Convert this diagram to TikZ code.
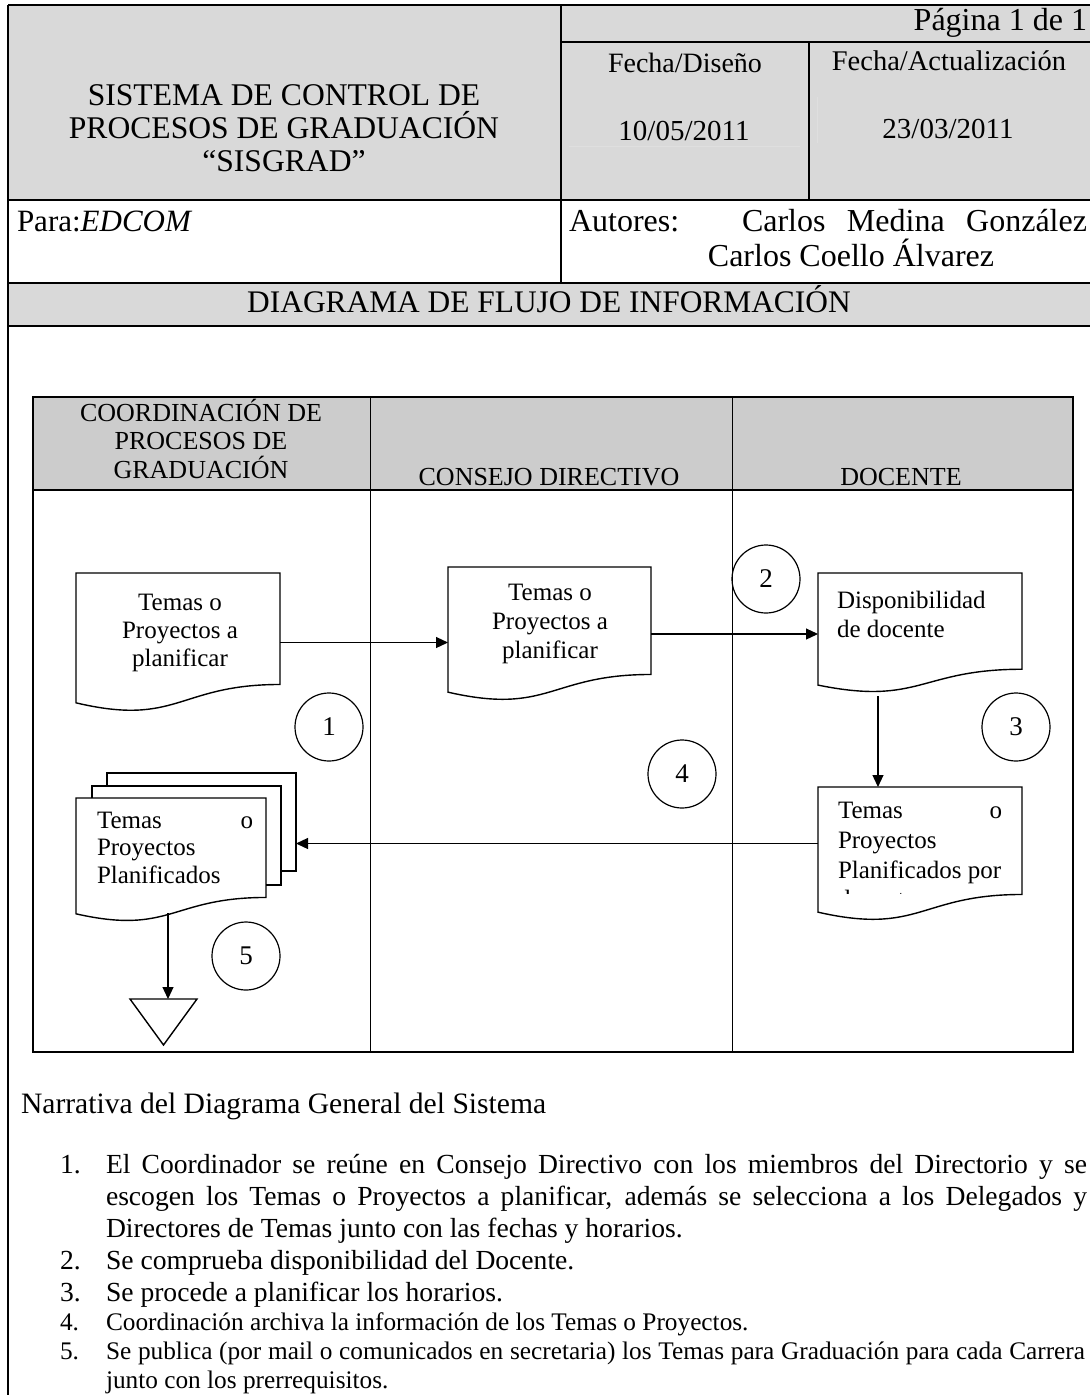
\documentclass[tikz,border=0pt]{standalone}
\usepackage{fontspec}
\setmainfont{Liberation Serif}
\usetikzlibrary{arrows.meta,calc}
\definecolor{hdrgray}{RGB}{217,217,217}
\definecolor{lanegray}{RGB}{204,204,204}
\newcommand\myfs[1]{\fontsize{#1}{#1}\selectfont}
\newcommand\docshape[1]{\draw[docline] (#1.north west) -- (#1.north east) -- ($(#1.north east)!0.802!(#1.south east)$) .. controls ($(#1.north)!0.802!(#1.south)$) and ($(#1.north)!1.1075!(#1.south)$) .. ($(#1.north west)!0.934!(#1.south west)$) -- cycle;}
\begin{document}
\begin{tikzpicture}[x=1pt,y=-1pt,
  txt/.style={inner sep=0pt, outer sep=0pt, anchor=base},
  box/.style={inner sep=0pt, outer sep=0pt, draw=none},
  arr/.style={-{Triangle[length=12pt,width=11pt]}, line width=1.2pt},
  docline/.style={line width=1.4pt},
  numc/.style={circle, draw, line width=1.2pt, minimum size=68pt, inner sep=0pt, font=\myfs{27}},
  thin/.style={line width=1.2pt},
  thick2/.style={line width=2.5pt}]
\useasboundingbox (0,0) rectangle (1090,1395);
\fill[white] (0,0) rectangle (1090,1395);
% ---------------- header table
\fill[hdrgray] (8,5) rectangle (1090,200);
\fill[hdrgray] (8,283) rectangle (1090,326);
\draw[thin] (8,5) -- (1090,5);
\draw[thin] (8,5) -- (8,1395);
\draw[line width=1.8pt] (561,42) -- (1090,42);
\draw[thin] (561,5) -- (561,283);
\draw[line width=1.8pt] (809,42) -- (809,200);
\draw[thick2] (8,200) -- (1090,200);
\draw[thick2] (8,283) -- (1090,283);
\draw[thin] (8,326) -- (1090,326);
\draw[gray!25, line width=0.8pt] (569,146) -- (800,146);
\draw[gray!25, line width=0.8pt] (817,97) -- (817,143);

\node[txt, font=\myfs{31.6}] (t1) at (284,105) {SISTEMA DE CONTROL DE};
\node[txt, font=\myfs{31.6}] (t2) at (284,138) {PROCESOS DE GRADUACIÓN};
\node[txt, font=\myfs{31.6}] (t3) at (284,171) {“SISGRAD”};
\node[txt, anchor=base east, font=\myfs{32}] (pag) at (1087,30) {Página 1 de 1};
\node[txt, font=\myfs{28}] (fd) at (685,72) {Fecha/Diseño};
\node[txt, font=\myfs{28.5}] (fa) at (949,70) {Fecha/Actualización};
\node[txt, font=\myfs{29}] (fdv) at (684,140) {10/05/2011};
\node[txt, font=\myfs{29}] (fav) at (948,138) {23/03/2011};
\node[txt, anchor=base west, font=\myfs{31}] (para) at (17,231) {Para:\textit{EDCOM}};
\node[txt, anchor=base west, font=\myfs{32}] (aut) at (569,231) {Autores:};
\node[txt, anchor=base east, font=\myfs{32}] (aut1) at (1087,231) {\makebox[345pt][s]{Carlos Medina González}};
\node[txt, font=\myfs{32}] (aut2) at (851,266) {Carlos Coello Álvarez};
\node[txt, font=\myfs{31.4}] (dfi) at (549,312) {DIAGRAMA DE FLUJO DE INFORMACIÓN};

% ---------------- swimlanes
\fill[lanegray] (33,397) rectangle (1073,490);
\draw[line width=1pt] (370,397) -- (370,1052);
\draw[line width=1pt] (732,397) -- (732,1052);
\draw[line width=2.8pt] (33,490) -- (1073,490);
\draw[line width=2.2pt] (33,397) rectangle (1073,1052);
\node[txt, font=\myfs{26}] (l1a) at (201,421) {COORDINACIÓN DE};
\node[txt, font=\myfs{26}] (l1b) at (201,449) {PROCESOS DE};
\node[txt, font=\myfs{26}] (l1c) at (201,478) {GRADUACIÓN};
\node[txt, font=\myfs{26}] (l2) at (549,485) {CONSEJO DIRECTIVO};
\node[txt, font=\myfs{26}] (l3) at (901,485) {DOCENTE};

% documents
\node[box, minimum width=204pt, minimum height=139pt] (docA) at (178,642.5) {};
\node[box, minimum width=203pt, minimum height=134pt] (docB) at (549.5,634) {};
\node[box, minimum width=204pt, minimum height=120pt] (docC) at (920,633) {};
\node[box, minimum width=204pt, minimum height=134pt] (docD) at (920,854) {};
\node[box, minimum width=190pt, minimum height=124pt] (docE) at (171,860) {};
\node[box, minimum width=220pt, minimum height=141pt] (stack) at (186,843.5) {};
\draw[docline] (107,786) -- (107,773) -- (296,773) -- (296,871) -- (281,871);
\draw[docline] (92,798) -- (92,786) -- (281,786) -- (281,885) -- (266,885);
\docshape{docA}
\docshape{docB}
\docshape{docC}
\docshape{docD}
\docshape{docE}

\node[txt, font=\myfs{25}] (tA1) at (180,610) {Temas o};
\node[txt, font=\myfs{25}] (tA2) at (180,638) {Proyectos a};
\node[txt, font=\myfs{25}] (tA3) at (180,666) {planificar};
\node[txt, font=\myfs{25}] (tB1) at (550,600) {Temas o};
\node[txt, font=\myfs{25}] (tB2) at (550,629) {Proyectos a};
\node[txt, font=\myfs{25}] (tB3) at (550,658) {planificar};
\node[txt, anchor=base west, font=\myfs{25}] (tC1) at (837,608) {Disponibilidad};
\node[txt, anchor=base west, font=\myfs{25}] (tC2) at (837,637) {de docente};
\node[txt, anchor=base west, font=\myfs{25}] (tD1) at (838,818) {\makebox[164pt][s]{Temas o}};
\node[txt, anchor=base west, font=\myfs{25}] (tD2) at (838,848) {Proyectos};
\node[txt, anchor=base west, font=\myfs{25}] (tD3) at (838,878) {Planificados por};
\begin{scope}
\clip (818,884) rectangle (1022,893);
\node[txt, anchor=base west, font=\myfs{25}] (tD4) at (838,907) {docente};
\end{scope}
\node[txt, anchor=base west, font=\myfs{25}] (tE1) at (97,828) {\makebox[156pt][s]{Temas o}};
\node[txt, anchor=base west, font=\myfs{25}] (tE2) at (97,855) {Proyectos};
\node[txt, anchor=base west, font=\myfs{25}] (tE3) at (97,883) {Planificados};

% archive triangle
\node[box, minimum width=67pt, minimum height=46pt] (arch) at (163.5,1022) {};
\draw[docline] (arch.north west) -- (arch.north east) -- (arch.south) -- cycle;

% circles
\node[numc] (c1) at (329,727) {1};
\node[numc] (c2) at (766,579) {2};
\node[numc] (c3) at (1016,727) {3};
\node[numc] (c4) at (682,774) {4};
\node[numc] (c5) at (246,956) {5};

% connectors
\draw[arr] (docA.east) -- (docA.east -| docB.west);
\draw[arr] (docB.east) -- (docB.east -| docC.west);
\coordinate (cS) at ($(docC.south west)!0.294!(docC.south east)$);
\draw[arr] ([yshift=-3pt]cS) -- (cS |- docD.north);
\draw[arr] (docD.west |- stack.east) -- (stack.east);
\coordinate (eS) at (168,913);
\draw[arr] (eS) -- (eS |- arch.north);

% ---------------- narrative
\node[txt, anchor=base west, font=\myfs{29.6}] (nh) at (21,1113) {Narrativa del Diagrama General del Sistema};
\node[txt, anchor=base west, font=\myfs{27.6}] (n1) at (60,1173) {1.};
\node[txt, anchor=base west, font=\myfs{27.6}] (n1a) at (106,1173) {\makebox[981pt][s]{El Coordinador se reúne en Consejo Directivo con los miembros del Directorio y se}};
\node[txt, anchor=base west, font=\myfs{27.6}] (n1b) at (106,1205) {\makebox[981pt][s]{escogen los Temas o Proyectos a planificar, además se selecciona a los Delegados y}};
\node[txt, anchor=base west, font=\myfs{27.6}] (n1c) at (106,1237) {Directores de Temas junto con las fechas y horarios.};
\node[txt, anchor=base west, font=\myfs{27.6}] (n2) at (60,1269) {2.};
\node[txt, anchor=base west, font=\myfs{27.6}] (n2a) at (106,1269) {Se comprueba disponibilidad del Docente.};
\node[txt, anchor=base west, font=\myfs{27.6}] (n3) at (60,1301) {3.};
\node[txt, anchor=base west, font=\myfs{27.6}] (n3a) at (106,1301) {Se procede a planificar los horarios.};
\node[txt, anchor=base west, font=\myfs{25.3}] (n4) at (60,1330) {4.};
\node[txt, anchor=base west, font=\myfs{25.3}] (n4a) at (106,1330) {Coordinación archiva la información de los Temas o Proyectos.};
\node[txt, anchor=base west, font=\myfs{25.3}] (n5) at (60,1359) {5.};
\node[txt, anchor=base west, font=\myfs{25.3}] (n5a) at (106,1359) {\makebox[979pt][s]{Se publica (por mail o comunicados en secretaria) los Temas para Graduación para cada Carrera}};
\node[txt, anchor=base west, font=\myfs{25.3}] (n5b) at (106,1388) {junto con los prerrequisitos.};
\end{tikzpicture}
\end{document}
